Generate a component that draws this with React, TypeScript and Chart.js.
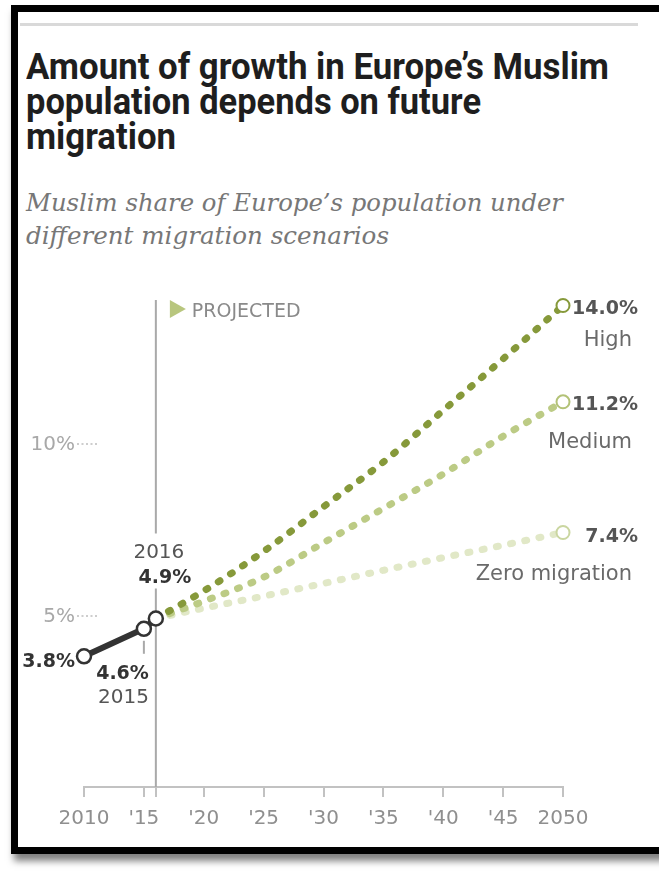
import React, { useEffect, useLayoutEffect, useRef } from 'react';
import { Chart, registerables } from 'chart.js';

Chart.register(...registerables);

// ---------- data ----------
const TITLE_LINES = ['Amount of growth in Europe’s Muslim', 'population depends on future', 'migration'];
const SUBTITLE_LINES = ['Muslim share of Europe’s population under', 'different migration scenarios'];

const HISTORY_YEARS = [2010, 2015, 2016];
const HISTORY_VALUES = [3.8, 4.6, 4.9];
const HISTORY_LABELS = ['3.8%', '4.6%', '4.9%'];

const PROJECTION_YEARS = [2016, 2020, 2025, 2030, 2035, 2040, 2045, 2050];
const HIGH_VALUES = [4.9, 5.7, 6.85, 8.15, 9.45, 10.95, 12.45, 14.0];
const MEDIUM_VALUES = [4.9, 5.4, 6.1, 7.1, 8.1, 9.1, 10.2, 11.2];
const ZERO_VALUES = [4.9, 5.2, 5.55, 5.92, 6.3, 6.67, 7.03, 7.4];

const SCENARIO_NAMES = ['High', 'Medium', 'Zero migration'];
const SCENARIO_END_LABELS = ['14.0%', '11.2%', '7.4%'];

const X_TICK_YEARS = [2010, 2015, 2016, 2020, 2025, 2030, 2035, 2040, 2045, 2050];
const X_TICK_LABELS = ['2010', "'15", '', "'20", "'25", "'30", "'35", "'40", "'45", '2050'];
const Y_TICK_VALUES = [5, 10];
const Y_TICK_LABELS = ['5%', '10%'];

const PROJECTION_START_YEAR = 2016;
const PROJECTED_LABEL = 'PROJECTED';

// ---------- styles ----------
const SANS = '"DejaVu Sans", sans-serif';
const HIGH_COLOR = '#86993a';
const MEDIUM_COLOR = '#bccb85';
const ZERO_COLOR = '#e1e8c7';
const HIGH_MARK = '#86993a';
const MEDIUM_MARK = '#b3c277';
const ZERO_MARK = '#cad6a0';

const toXY = (xs: number[], ys: number[]) => xs.map((x, i) => ({ x, y: ys[i] }));

const annotationPlugin = {
  id: 'annotations',
  beforeDatasetsDraw(chart: any) {
    const { ctx, chartArea, scales } = chart;
    const x = scales.x;
    const y = scales.y;
    const px = x.getPixelForValue(PROJECTION_START_YEAR);
    const py = y.getPixelForValue(HISTORY_VALUES[2]);
    ctx.save();
    // projection divider
    ctx.strokeStyle = '#a9a9a9';
    ctx.lineWidth = 2;
    ctx.beginPath();
    ctx.moveTo(px, chartArea.top);
    ctx.lineTo(px, py - 85);
    ctx.moveTo(px, py - 30);
    ctx.lineTo(px, chartArea.bottom);
    ctx.stroke();
    // 2015 leader
    const p15x = x.getPixelForValue(HISTORY_YEARS[1]);
    const p15y = y.getPixelForValue(HISTORY_VALUES[1]);
    ctx.beginPath();
    ctx.moveTo(p15x, p15y + 12);
    ctx.lineTo(p15x, p15y + 25);
    ctx.stroke();
    // y labels with dotted leaders
    Y_TICK_VALUES.forEach((v, i) => {
      const yy = y.getPixelForValue(v);
      ctx.fillStyle = '#a8a8a8';
      ctx.font = `20px ${SANS}`;
      ctx.textAlign = 'right';
      ctx.textBaseline = 'alphabetic';
      ctx.fillText(Y_TICK_LABELS[i], chartArea.left - 9, yy + 7);
      ctx.strokeStyle = '#bdbdbd';
      ctx.lineWidth = 1.5;
      ctx.setLineDash([2, 2.5]);
      ctx.beginPath();
      ctx.moveTo(chartArea.left - 7, yy + 1);
      ctx.lineTo(chartArea.left + 15, yy + 1);
      ctx.stroke();
      ctx.setLineDash([]);
    });
    // PROJECTED marker
    ctx.fillStyle = '#b8c67e';
    ctx.beginPath();
    ctx.moveTo(px + 14, chartArea.top);
    ctx.lineTo(px + 30, chartArea.top + 9);
    ctx.lineTo(px + 14, chartArea.top + 18);
    ctx.closePath();
    ctx.fill();
    ctx.fillStyle = '#8a8a8a';
    ctx.font = `19px ${SANS}`;
    ctx.textAlign = 'left';
    ctx.fillText(PROJECTED_LABEL, px + 36, chartArea.top + 17);
    ctx.restore();
  },
  afterDatasetsDraw(chart: any) {
    const { ctx, scales } = chart;
    const x = scales.x;
    const y = scales.y;
    const text = (s: string, tx: number, ty: number, font: string, color: string, align: CanvasTextAlign) => {
      ctx.font = font;
      ctx.fillStyle = color;
      ctx.textAlign = align;
      ctx.textBaseline = 'alphabetic';
      ctx.fillText(s, tx, ty);
    };
    ctx.save();
    const bold = `bold 19px ${SANS}`;
    const reg = `20px ${SANS}`;
    // history labels
    const x10 = x.getPixelForValue(HISTORY_YEARS[0]);
    const y10 = y.getPixelForValue(HISTORY_VALUES[0]);
    text(HISTORY_LABELS[0], x10 - 9, y10 + 11, bold, '#333', 'right');
    const x15 = x.getPixelForValue(HISTORY_YEARS[1]);
    const y15 = y.getPixelForValue(HISTORY_VALUES[1]);
    text(HISTORY_LABELS[1], x15 + 5, y15 + 50, bold, '#333', 'right');
    text(String(HISTORY_YEARS[1]), x15 + 5, y15 + 74, reg, '#555', 'right');
    const x16 = x.getPixelForValue(HISTORY_YEARS[2]);
    const y16 = y.getPixelForValue(HISTORY_VALUES[2]);
    text(String(HISTORY_YEARS[2]), x16 + 3, y16 - 60, reg, '#555', 'center');
    text(HISTORY_LABELS[2], x16 + 9, y16 - 35, bold, '#333', 'center');
    // scenario end labels
    const xe = x.getPixelForValue(PROJECTION_YEARS[PROJECTION_YEARS.length - 1]);
    const ends = [HIGH_VALUES, MEDIUM_VALUES, ZERO_VALUES].map((arr) => arr[arr.length - 1]);
    const pctOffsets = [8, 8, 10];
    const nameOffsets = [40, 46, 48];
    ends.forEach((v, i) => {
      const ye = y.getPixelForValue(v);
      text(SCENARIO_END_LABELS[i], xe + 75, ye + pctOffsets[i], `bold 19px ${SANS}`, '#555', 'right');
      text(SCENARIO_NAMES[i], xe + 69, ye + nameOffsets[i], `21px ${SANS}`, '#6a6a6a', 'right');
    });
    ctx.restore();
  },
};

function fitLines(spans: (HTMLSpanElement | null)[], widths: number[]) {
  spans.forEach((el, i) => {
    if (!el) return;
    el.style.transform = 'none';
    const w = el.getBoundingClientRect().width;
    if (w > 0) el.style.transform = `scaleX(${widths[i] / w})`;
  });
}

export default function App() {
  const canvasRef = useRef<HTMLCanvasElement>(null);
  const titleRefs = useRef<(HTMLSpanElement | null)[]>([]);
  const subRefs = useRef<(HTMLSpanElement | null)[]>([]);

  useLayoutEffect(() => {
    fitLines(titleRefs.current, [583, 455, 150]);
    fitLines(subRefs.current, [537, 363]);
  }, []);

  useEffect(() => {
    if (!canvasRef.current) return;
    const lastIdx = PROJECTION_YEARS.length - 1;
    const projected = (label: string, values: number[], color: string, mark: string) => ({
      label,
      data: toXY(PROJECTION_YEARS, values),
      borderColor: color,
      borderWidth: 7,
      borderDash: [2, 12.5],
      borderCapStyle: 'round',
      cubicInterpolationMode: 'monotone',
      pointRadius: (c: any) => (c.dataIndex === lastIdx ? 6.5 : 0),
      pointBorderWidth: 2,
      pointBorderColor: mark,
      pointBackgroundColor: '#fff',
      clip: false,
    });
    const chart = new Chart(canvasRef.current, {
      type: 'line',
      data: {
        datasets: [
          {
            label: 'History',
            data: toXY(HISTORY_YEARS, HISTORY_VALUES),
            borderColor: '#333',
            borderWidth: 6,
            pointRadius: 7,
            pointBorderWidth: 2.5,
            pointBorderColor: '#333',
            pointBackgroundColor: '#fff',
            clip: false,
          },
          projected(SCENARIO_NAMES[0], HIGH_VALUES, HIGH_COLOR, HIGH_MARK),
          projected(SCENARIO_NAMES[1], MEDIUM_VALUES, MEDIUM_COLOR, MEDIUM_MARK),
          projected(SCENARIO_NAMES[2], ZERO_VALUES, ZERO_COLOR, ZERO_MARK),
        ] as any,
      },
      options: {
        responsive: false,
        animation: false,
        events: [],
        layout: { padding: { left: 84, right: 96, top: 300, bottom: 0 } },
        plugins: { legend: { display: false }, tooltip: { enabled: false }, title: { display: false } },
        scales: {
          x: {
            type: 'linear',
            min: 2010,
            max: 2050,
            afterBuildTicks: (scale: any) => {
              scale.ticks = X_TICK_YEARS.map((v) => ({ value: v }));
            },
            afterFit: (scale: any) => {
              scale.height = 86;
            },
            ticks: {
              autoSkip: false,
              maxRotation: 0,
              padding: 10,
              color: '#8f8f8f',
              font: { family: SANS, size: 20 },
              callback: (v: any) => {
                const i = X_TICK_YEARS.indexOf(Number(v));
                return i >= 0 ? X_TICK_LABELS[i] : '';
              },
            },
            grid: { drawOnChartArea: false, drawTicks: true, tickLength: 10, color: '#c2c2c2', lineWidth: 2 },
            border: { display: true, color: '#c2c2c2', width: 2 },
          },
          y: {
            type: 'linear',
            display: false,
            min: 0,
            max: 14.16,
          },
        },
      } as any,
      plugins: [annotationPlugin],
    });
    return () => chart.destroy();
  }, []);

  return (
    <div style={{ position: 'absolute', left: 0, top: 0, width: 659, height: 873, overflow: 'hidden', background: '#fff' }}>
      <div
        style={{
          position: 'absolute',
          left: 11,
          top: 5,
          width: 720,
          height: 849,
          boxSizing: 'border-box',
          borderTop: '7px solid #000',
          borderLeft: '7px solid #000',
          borderBottom: '7px solid #000',
          boxShadow: '3px 7px 7px rgba(0,0,0,0.5)',
          background: '#fff',
        }}
      />
      <div style={{ position: 'absolute', left: 20, top: 23, width: 618, height: 3, background: '#d9d9d9' }} />
      <div
        style={{
          position: 'absolute',
          left: 26,
          top: 50,
          fontFamily: 'Roboto, sans-serif',
          fontWeight: 700,
          fontSize: 36,
          lineHeight: '35px',
          color: '#1e1e1e',
          whiteSpace: 'nowrap',
        }}
      >
        {TITLE_LINES.map((l, i) => (
          <div key={i}>
            <span
              ref={(el) => {
                titleRefs.current[i] = el;
              }}
              style={{ display: 'inline-block', transformOrigin: 'left center' }}
            >
              {l}
            </span>
          </div>
        ))}
      </div>
      <div
        style={{
          position: 'absolute',
          left: 26,
          top: 187,
          fontFamily: '"DejaVu Serif", serif',
          fontStyle: 'italic',
          fontSize: 24,
          lineHeight: '33px',
          color: '#777',
          whiteSpace: 'nowrap',
        }}
      >
        {SUBTITLE_LINES.map((l, i) => (
          <div key={i}>
            <span
              ref={(el) => {
                subRefs.current[i] = el;
              }}
              style={{ display: 'inline-block', transformOrigin: 'left center' }}
            >
              {l}
            </span>
          </div>
        ))}
      </div>
      <canvas ref={canvasRef} width={659} height={873} style={{ position: 'absolute', left: 0, top: 0 }} />
    </div>
  );
}
